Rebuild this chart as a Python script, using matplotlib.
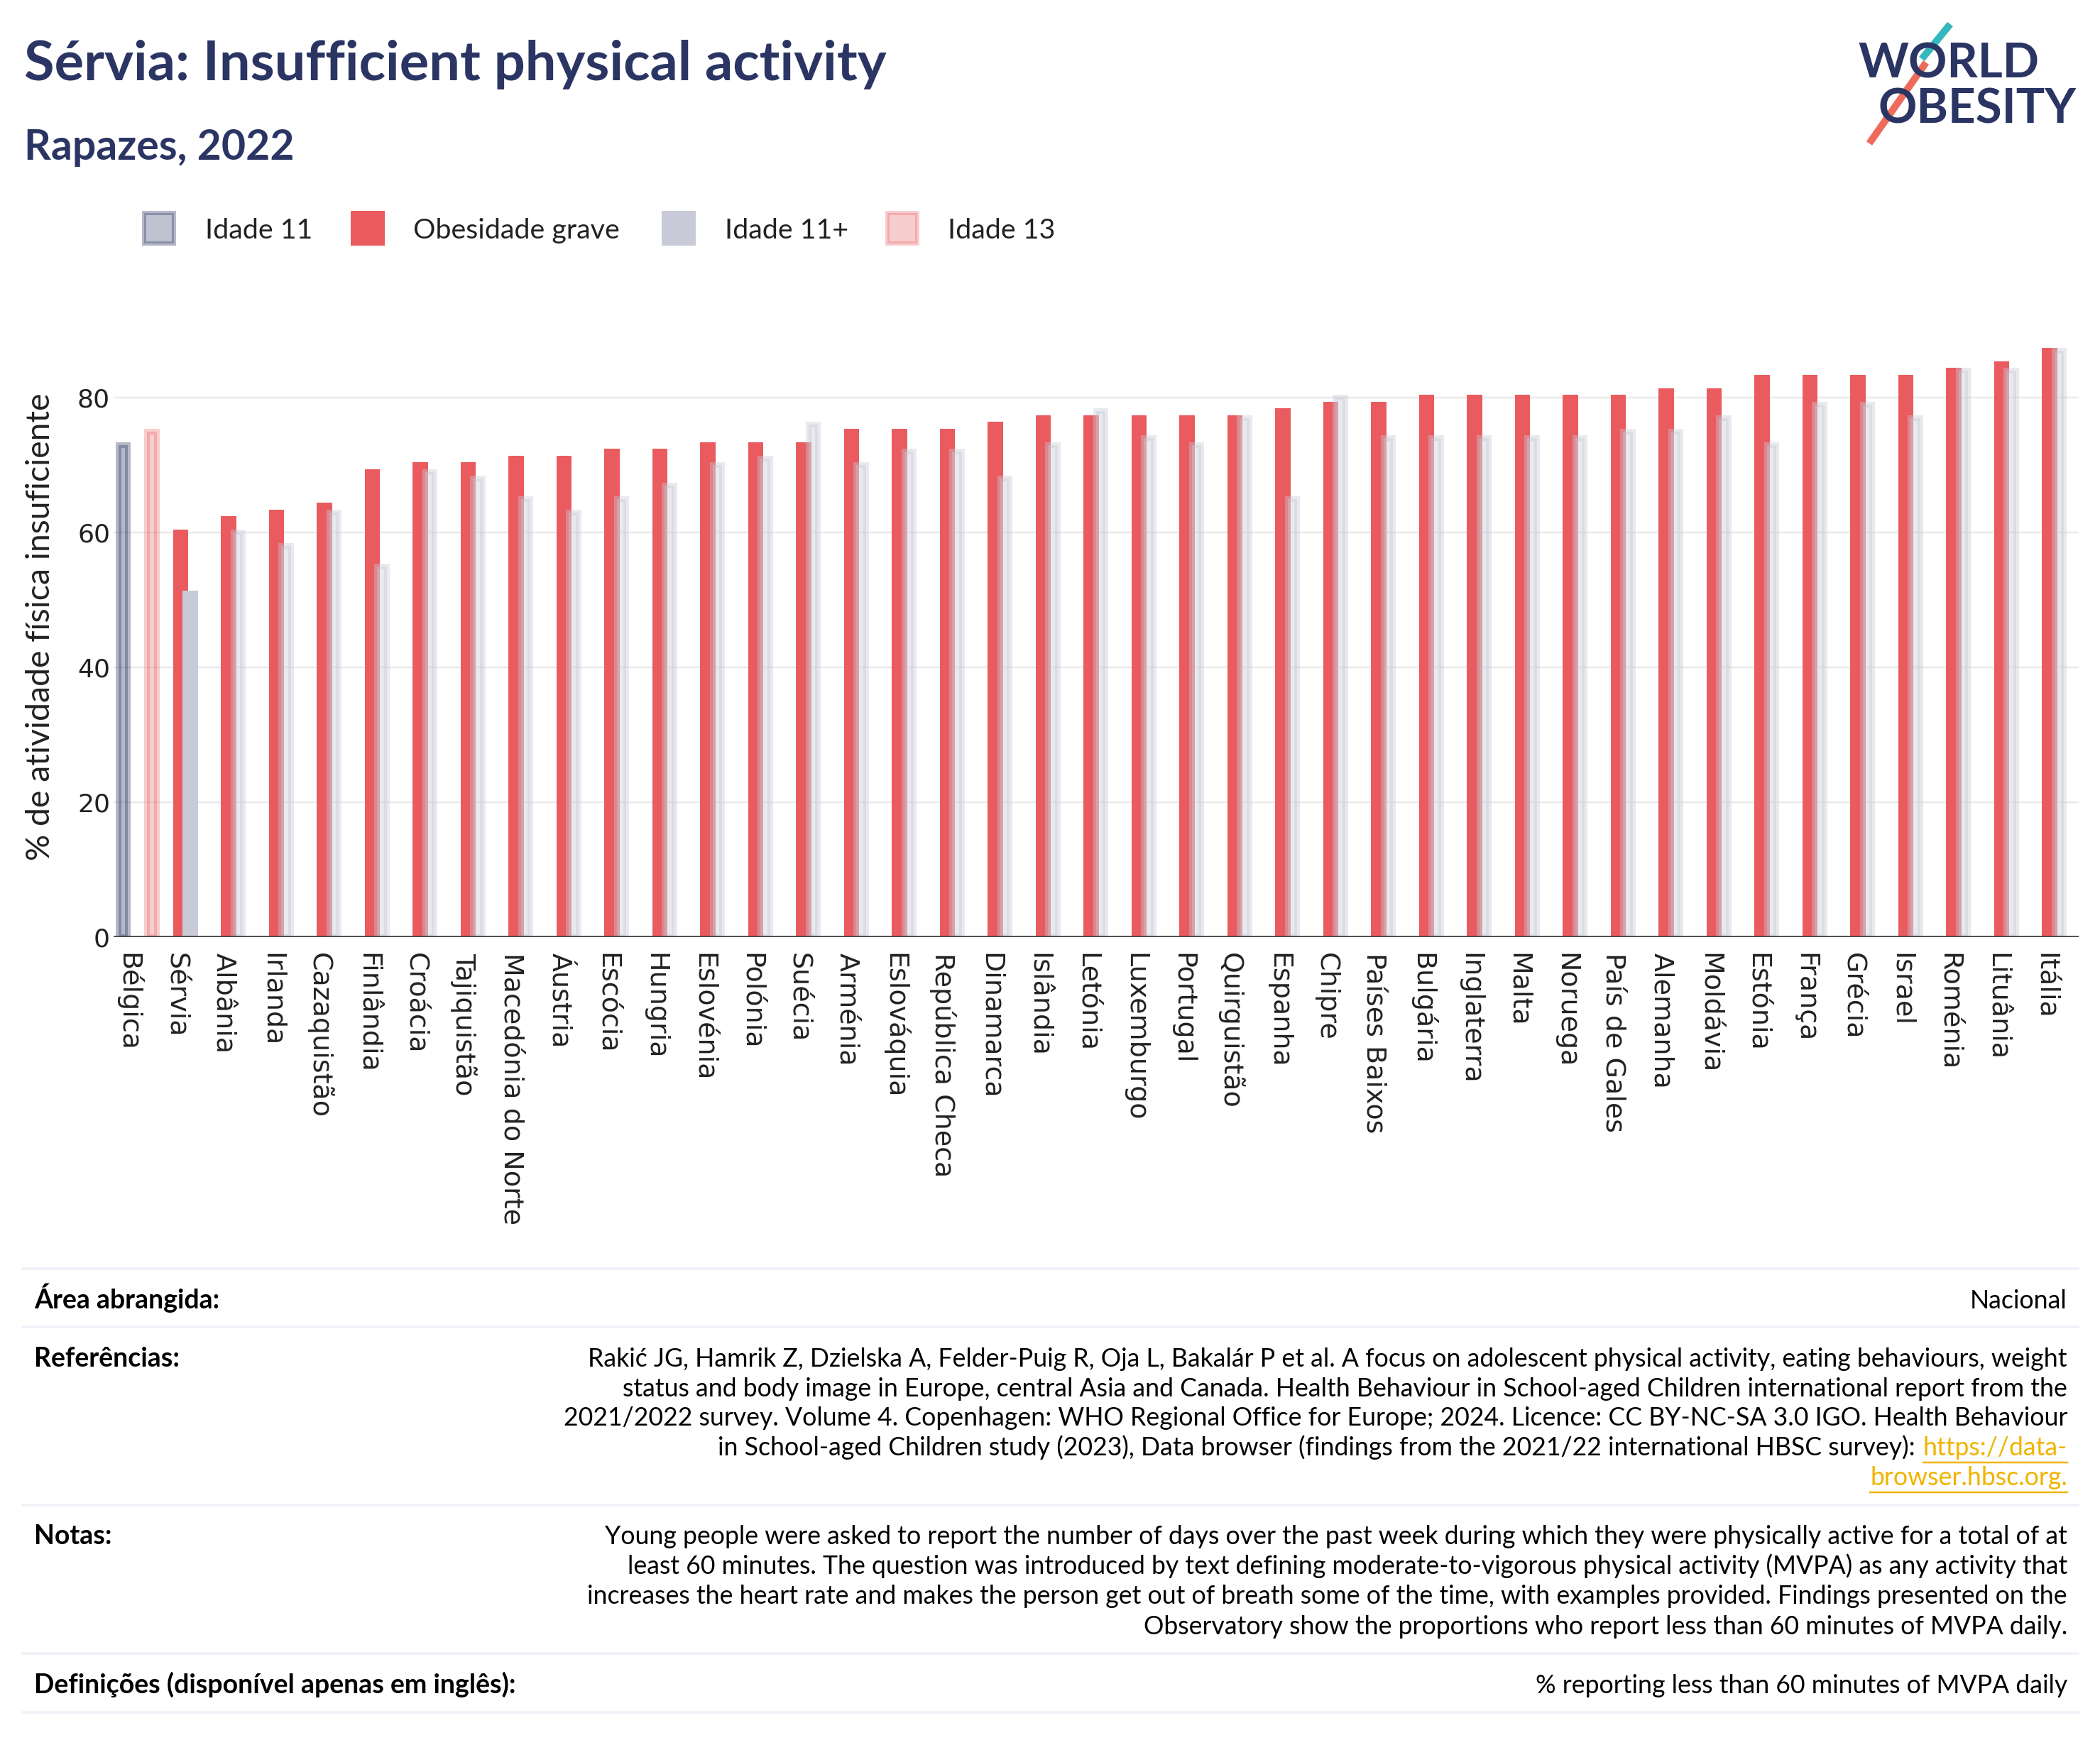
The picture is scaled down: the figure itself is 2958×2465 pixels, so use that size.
import numpy as np
import matplotlib
matplotlib.use("Agg")
import matplotlib.pyplot as plt
from matplotlib.patches import Rectangle
from matplotlib.lines import Line2D
import matplotlib.patheffects as pe

# ---------------- data ----------------
countries = ["Bélgica", "Sérvia", "Albânia", "Irlanda", "Cazaquistão", "Finlândia", "Croácia",
             "Tajiquistão", "Macedónia do Norte", "Áustria", "Escócia", "Hungria", "Eslovénia",
             "Polónia", "Suécia", "Arménia", "Eslováquia", "República Checa", "Dinamarca",
             "Islândia", "Letónia", "Luxemburgo", "Portugal", "Quirguistão", "Espanha", "Chipre",
             "Países Baixos", "Bulgária", "Inglaterra", "Malta", "Noruega", "País de Gales",
             "Alemanha", "Moldávia", "Estónia", "França", "Grécia", "Israel", "Roménia",
             "Lituânia", "Itália"]
nan = np.nan
idade_11 = [73] + [nan] * 40
obesidade_grave = [nan, 60, 62, 63, 64, 69, 70, 70, 71, 71, 72, 72, 73, 73, 73, 75, 75, 75, 76, 77,
                   77, 77, 77, 77, 78, 79, 79, 80, 80, 80, 80, 80, 81, 81, 83, 83, 83, 83, 84, 85, 87]
idade_11_plus = [nan, 51, 60, 58, 63, 55, 69, 68, 65, 63, 65, 67, 70, 71, 76, 70, 72, 72, 68, 73,
                 78, 74, 73, 77, 65, 80, 74, 74, 74, 74, 74, 75, 75, 77, 73, 79, 79, 77, 84, 84, 87]
idade_13 = [75] + [nan] * 40
highlight = "Sérvia"
series_names = ["Idade 11", "Obesidade grave", "Idade 11+", "Idade 13"]
yticks = [0, 20, 40, 60, 80]

# ---------------- style ----------------
W, H, DPI = 2958, 2465, 200
NAVY = "#2b3563"
RED = "#ea5b5f"
GREY = "#c8cbd7"
TXT = "#222222"
SEP = "#eef1f8"
LINK = "#f0b400"
PX = 72.0 / DPI  # points per pixel

FONT = ["Lato", "DejaVu Sans"]
TICKFONT = ["DejaVu Sans"]

def fx(px):
    return px / W

def fy(py):
    return 1 - py / H

def rgba(c, a):
    c = matplotlib.colors.to_rgb(c)
    return (c[0], c[1], c[2], a)

fig = plt.figure(figsize=(W / DPI, H / DPI), dpi=DPI)
fig.patch.set_facecolor("white")

# ---------------- axes ----------------
left, right, top, bottom = 160, 2927.5, 446, 1320
ax = fig.add_axes([fx(left), fy(bottom), (right - left) / W, (bottom - top) / H])
ax.set_facecolor("white")

x = np.arange(len(countries))
bw = 0.2
LW = 8 * PX

def draw(values, offset, faces, edges):
    v = np.array(values, dtype=float)
    m = ~np.isnan(v)
    idx = np.where(m)[0]
    ax.bar(x[m] + offset, v[m], width=bw,
           color=[faces[i] for i in idx],
           edgecolor=[edges[i] for i in idx],
           linewidth=LW, zorder=2)

n = len(countries)
draw(idade_11, -0.3, [rgba(NAVY, 0.35)] * n, [rgba(NAVY, 0.35)] * n)
draw(obesidade_grave, -0.1, [rgba(RED, 1)] * n, [rgba(RED, 1)] * n)
grey_alpha = [1.0 if c == highlight else 0.4 for c in countries]
draw(idade_11_plus, 0.1, [rgba(GREY, a) for a in grey_alpha], [rgba(GREY, a) for a in grey_alpha])
draw(idade_13, 0.3, [rgba(RED, 0.3)] * n, [rgba(RED, 0.3)] * n)

ax.set_xlim(-0.5, len(countries) - 0.5)
ax.set_ylim(0, 92)
ax.set_yticks(yticks)
ax.set_yticklabels([str(t) for t in yticks], fontsize=13, color=TXT, family=TICKFONT)
label_offset = -0.2
ax.set_xticks(x + label_offset)
ax.set_xticklabels(countries, rotation=-90, ha="center", va="top", fontsize=13.7,
                   color=TXT, family=TICKFONT)
ax.tick_params(axis="both", length=0)
ax.tick_params(axis="y", pad=5 * PX)
ax.tick_params(axis="x", pad=8)
ax.yaxis.grid(True, color="#ebebeb", linewidth=2.5 * PX, zorder=0)
ax.set_axisbelow(True)
for s in ax.spines.values():
    s.set_visible(False)
ax.axhline(0, color="#444444", linewidth=3.5 * PX, zorder=3)

fig.text(fx(57), fy(883), "% de atividade física insuficiente", rotation=90, ha="center",
         va="center", fontsize=16.7, color=TXT, family=FONT)

# ---------------- title ----------------
fig.text(fx(34), fy(113), "Sérvia: Insufficient physical activity", ha="left", va="baseline",
         fontsize=27.9, fontweight="bold", color=NAVY, family=FONT)
fig.text(fx(34), fy(225), "Rapazes, 2022", ha="left", va="baseline",
         fontsize=21.2, fontweight="bold", color=NAVY, family=FONT)

# ---------------- legend ----------------
leg_items = [
    (series_names[0], 200, 289, rgba(NAVY, 0.3), rgba(NAVY, 0.35)),
    (series_names[1], 494, 582, rgba(RED, 1), rgba(RED, 1)),
    (series_names[2], 932, 1021, rgba(GREY, 1), rgba(GREY, 1)),
    (series_names[3], 1247, 1335, rgba(RED, 0.3), rgba(RED, 0.3)),
]
for name, bx, tx, fc, ec in leg_items:
    ins = 3
    r = Rectangle((fx(bx + ins), fy(346 - ins)), (48 - 2 * ins) / W, (49 - 2 * ins) / H,
                  transform=fig.transFigure, facecolor=fc, edgecolor=ec, linewidth=6 * PX)
    fig.patches.append(r)
    fig.text(fx(tx), fy(336), name, ha="left", va="baseline", fontsize=14.2, color=TXT,
             family=FONT)

# ---------------- logo ----------------
fig.text(fx(2617), fy(110), "WORLD", ha="left", va="baseline", fontsize=24.3,
         fontweight="bold", color=NAVY, family=FONT)
fig.text(fx(2645), fy(174), "OBESITY", ha="left", va="baseline", fontsize=24.3,
         fontweight="bold", color=NAVY, family=FONT)
for (x0, y0, x1, y1, col) in [(2747, 34, 2707, 83, "#35b8bd"), (2713, 88, 2633, 202, "#ee6b5b")]:
    ln = Line2D([fx(x0), fx(x1)], [fy(y0), fy(y1)], transform=fig.transFigure, color=col,
                linewidth=10 * PX, solid_capstyle="butt",
                path_effects=[pe.Stroke(linewidth=18 * PX, foreground="white"), pe.Normal()])
    fig.lines.append(ln)

# ---------------- table ----------------
for yy in [1787, 1869, 2120, 2329, 2412]:
    fig.lines.append(Line2D([fx(32), fx(2927)], [fy(yy), fy(yy)], transform=fig.transFigure,
                            color=SEP, linewidth=3.5 * PX))

TS = 12.85
LS = 13.5
RX = 2912
LX = 48

def label(y, s):
    fig.text(fx(LX), fy(y), s, ha="left", va="baseline", fontsize=LS, fontweight="bold",
             color="black", family=FONT)

def rtext(y, s, color="black", xr=RX):
    return fig.text(fx(xr), fy(y), s, ha="right", va="baseline", fontsize=TS, color=color,
                    family=FONT)

label(1843, "Área abrangida:")
rtext(1843, "Nacional")

label(1925, "Referências:")
ref_lines = [
    "Rakić JG, Hamrik Z, Dzielska A, Felder-Puig R, Oja L, Bakalár P et al. A focus on adolescent physical activity, eating behaviours, weight",
    "status and body image in Europe, central Asia and Canada. Health Behaviour in School-aged Children international report from the",
    "2021/2022 survey. Volume 4. Copenhagen: WHO Regional Office for Europe; 2024. Licence: CC BY-NC-SA 3.0 IGO. Health Behaviour",
]
ref_y = [1925, 1967, 2008, 2050, 2092]
for yy, s in zip(ref_y, ref_lines):
    rtext(yy, s)

renderer = fig.canvas.get_renderer()
link1 = rtext(ref_y[3], "https://data-", color=LINK)
bb1 = link1.get_window_extent(renderer=renderer)
rtext(ref_y[3], "in School-aged Children study (2023), Data browser (findings from the 2021/22 international HBSC survey): ",
      xr=bb1.x0 - 2)
link2 = rtext(ref_y[4], "browser.hbsc.org.", color=LINK)
bb2 = link2.get_window_extent(renderer=renderer)
for bb, yy in [(bb1, ref_y[3]), (bb2, ref_y[4])]:
    fig.lines.append(Line2D([bb.x0 / W, bb.x1 / W], [fy(yy + 10), fy(yy + 10)],
                            transform=fig.transFigure, color=LINK, linewidth=2.5 * PX))

label(2175, "Notas:")
note_lines = [
    "Young people were asked to report the number of days over the past week during which they were physically active for a total of at",
    "least 60 minutes. The question was introduced by text defining moderate-to-vigorous physical activity (MVPA) as any activity that",
    "increases the heart rate and makes the person get out of breath some of the time, with examples provided. Findings presented on the",
    "Observatory show the proportions who report less than 60 minutes of MVPA daily.",
]
for yy, s in zip([2175, 2217, 2259, 2302], note_lines):
    rtext(yy, s)

label(2385, "Definições (disponível apenas em inglês):")
rtext(2385, "% reporting less than 60 minutes of MVPA daily")

fig.savefig("out.png", dpi=DPI, facecolor="white")
